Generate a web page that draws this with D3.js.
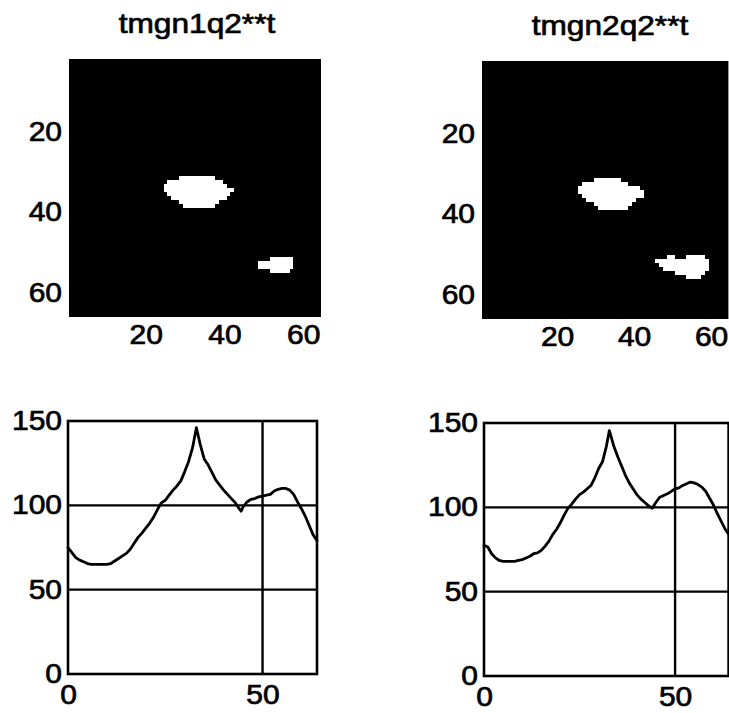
<!DOCTYPE html>
<html><head><meta charset="utf-8">
<script src="https://cdn.jsdelivr.net/npm/d3@7"></script>
<style>html,body{margin:0;padding:0;background:#fff;overflow:hidden} svg{display:block}</style>
</head><body><svg id="c" width="729" height="713"></svg>
<script>
// ---------- data ----------
const titles = ["tmgn1q2**t", "tmgn2q2**t"];
const imageTicks = [20, 40, 60];
const profileYTicks = [0, 50, 100, 150];
const profileXTicks = [0, 50];

// white pixel runs in the 64x64 binary images: [row, firstCol, lastCol]
const blobRuns1 = [
  [30, 29, 37], [31, 26, 39], [32, 25, 40], [33, 25, 42], [34, 26, 41],
  [35, 27, 40], [36, 29, 38], [37, 30, 37],
  [50, 52, 57], [51, 49, 57], [52, 49, 57], [53, 52, 56]
];
const blobRuns2 = [
  [30, 30, 36], [31, 27, 38], [32, 26, 41], [33, 26, 42], [34, 27, 42],
  [35, 28, 40], [36, 30, 39], [37, 31, 38],
  [49, 49, 50], [49, 54, 58], [50, 46, 59], [51, 47, 59], [52, 48, 59],
  [53, 51, 58], [54, 54, 57]
];

// profile curves
const profileX1 = [0,1,2,3,4,5,6,8,10,11,12,13,14,15,16,17,18,19,20,21,22,23,24,25,26,27,28,29,30,31,32,33,34,35,36,37,38,39,40,41,42,43,44,44.5,45,46,47,48,49,50,51,52,53,54,55,56,57,58,59,60,61,62,63,64];
const profileY1 = [75,72,69,67.5,66.5,65.5,65,65,65,65.5,67,68.5,70,71.5,74,77.5,81,83.5,86.5,89.5,93,97.5,101.5,103,106,109,111.5,114.5,120,126,134,146,136,127.5,124,119.5,115,112,109,106.5,104,101.5,98,96.5,99,102,103.5,104,105,105.5,106,106.5,108.5,109.5,110,110,109,106.5,102,98,93.5,88,82.5,79];
const profileX2 = [0,1,2,3,4,5,6,7,8,9,10,11,12,13,14,15,16,17,18,19,20,21,22,23,24,25,26,27,28,29,30,31,32,32.8,34,35,36,37,38,39,40,41,42,43,44,45,46,47,48,49,50,51,52,53,54,55,56,57,58,59,60,61,62,63,64];
const profileY2 = [77.5,76.5,72.5,70,68.5,68,68,68,68,68.5,69,70,71,72.5,73,74.5,77,80,84,87,91,95.5,99.5,102,105,107.5,109,111,113,117.5,123,127,136,145.5,136,130,124.5,119,114.5,111,107.5,105,103,101,99.5,103,106,107,108,109.5,111,111.5,113,114,115,114.5,113.5,112,109.5,105.5,101.5,96.5,92,87.5,84];

// ---------- drawing ----------
const svg = d3.select("#c");
svg.append("rect").attr("width", 729).attr("height", 713).attr("fill", "#fff");
const FONT = "'Liberation Sans', Arial, Helvetica, sans-serif";

function stretch(sel, k) {
  sel.each(function () {
    const L = this.getComputedTextLength();
    this.setAttribute("textLength", L * k);
    this.setAttribute("lengthAdjust", "spacingAndGlyphs");
  });
}

function styleText(sel, size) {
  sel.attr("font-family", FONT).attr("font-size", size).attr("fill", "#000")
    .attr("stroke", "#000").attr("stroke-width", 0.7);
}

function styleAxis(g) {
  g.select(".domain").remove();
  g.selectAll("line").remove();
  styleText(g.selectAll("text"), 27);
  stretch(g.selectAll("text"), 1.11);
}

const imagePanels = [
  {x0: 69, x1: 321, y0: 59, y1: 317, runs: blobRuns1, title: titles[0], tx: 197, ty: 33},
  {x0: 482, x1: 728.4, y0: 61, y1: 319, runs: blobRuns2, title: titles[1], tx: 610, ty: 35}
];

imagePanels.forEach(p => {
  const x = d3.scaleLinear().domain([0.5, 64.5]).range([p.x0, p.x1]);
  const y = d3.scaleLinear().domain([0.5, 64.5]).range([p.y0, p.y1]);
  const g = svg.append("g");
  g.append("rect").attr("x", p.x0).attr("y", p.y0).attr("width", p.x1 - p.x0).attr("height", p.y1 - p.y0).attr("fill", "#000");
  g.selectAll("rect.px").data(p.runs).join("rect").attr("class", "px")
    .attr("x", d => x(d[1] - 0.5)).attr("y", d => y(d[0] - 0.5))
    .attr("width", d => x(d[2] + 0.5) - x(d[1] - 0.5)).attr("height", d => y(d[0] + 0.5) - y(d[0] - 0.5))
    .attr("fill", "#fff").attr("shape-rendering", "crispEdges");
  const ax = svg.append("g").attr("transform", `translate(0,${p.y1})`)
    .call(d3.axisBottom(x).tickValues(imageTicks).tickSize(0).tickPadding(8));
  styleAxis(ax);
  const ay = svg.append("g").attr("transform", `translate(${p.x0},-6)`)
    .call(d3.axisLeft(y).tickValues(imageTicks).tickSize(0).tickPadding(7));
  styleAxis(ay);
  const t = svg.append("text").attr("x", p.tx).attr("y", p.ty).attr("text-anchor", "middle").text(p.title);
  styleText(t, 28);
  stretch(t, 1.13);
});

const profilePanels = [
  {x0: 68, x1: 317, y0: 421, y1: 674, xs: profileX1, ys: profileY1},
  {x0: 484, x1: 728.6, y0: 423, y1: 676, xs: profileX2, ys: profileY2}
];

profilePanels.forEach(p => {
  const x = d3.scaleLinear().domain([0, 64]).range([p.x0, p.x1]);
  const y = d3.scaleLinear().domain([0, 150]).range([p.y1, p.y0]);
  const g = svg.append("g");
  const gy = profileYTicks.filter(v => v > 0 && v < 150);
  const gx = profileXTicks.filter(v => v > 0 && v < 64);
  g.selectAll("line.gy").data(gy).join("line").attr("class", "gy")
    .attr("x1", p.x0).attr("x2", p.x1).attr("y1", d => y(d)).attr("y2", d => y(d))
    .attr("stroke", "#000").attr("stroke-width", 2.4);
  g.selectAll("line.gx").data(gx).join("line").attr("class", "gx")
    .attr("y1", p.y0).attr("y2", p.y1).attr("x1", d => x(d)).attr("x2", d => x(d))
    .attr("stroke", "#000").attr("stroke-width", 2.4);
  const pts = p.xs.map((v, i) => [v, p.ys[i]]);
  g.append("path").datum(pts)
    .attr("d", d3.line().x(d => x(d[0])).y(d => y(d[1])))
    .attr("fill", "none").attr("stroke", "#000").attr("stroke-width", 2.8)
    .attr("stroke-linejoin", "round").attr("stroke-linecap", "round");
  g.append("rect").attr("x", p.x0).attr("y", p.y0).attr("width", p.x1 - p.x0).attr("height", p.y1 - p.y0)
    .attr("fill", "none").attr("stroke", "#000").attr("stroke-width", 2.6);
  const ax = svg.append("g").attr("transform", `translate(0,${p.y1})`)
    .call(d3.axisBottom(x).tickValues(profileXTicks).tickSize(0).tickPadding(11));
  styleAxis(ax);
  const ay = svg.append("g").attr("transform", `translate(${p.x0},0)`)
    .call(d3.axisLeft(y).tickValues(profileYTicks).tickSize(0).tickPadding(6));
  styleAxis(ay);
});
</script>
</body></html>
